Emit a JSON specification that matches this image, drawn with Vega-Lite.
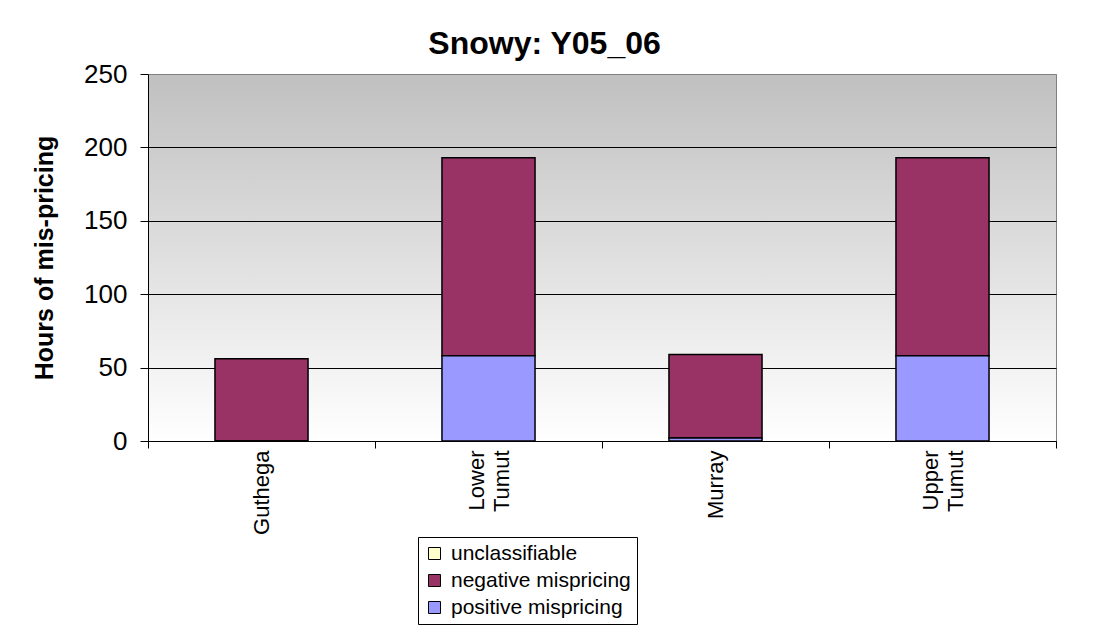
{
  "$schema": "https://vega.github.io/schema/vega-lite/v6.json",
  "autosize": {"type": "none"},
  "width": 908,
  "height": 367,
  "padding": {"left": 148, "top": 74, "right": 39, "bottom": 192},
  "background": "white",
  "title": {
    "text": "Snowy: Y05_06",
    "font": "Liberation Sans",
    "fontSize": 32,
    "fontWeight": "bold",
    "color": "black",
    "anchor": "middle",
    "frame": "bounds",
    "offset": 0
  },
  "data": {
    "values": [
      {"station": "Guthega", "series": "unclassifiable", "hours": 0},
      {"station": "Guthega", "series": "negative mispricing", "hours": 56},
      {"station": "Guthega", "series": "positive mispricing", "hours": 0},
      {"station": "Lower Tumut", "series": "unclassifiable", "hours": 0},
      {"station": "Lower Tumut", "series": "negative mispricing", "hours": 135},
      {"station": "Lower Tumut", "series": "positive mispricing", "hours": 58},
      {"station": "Murray", "series": "unclassifiable", "hours": 0},
      {"station": "Murray", "series": "negative mispricing", "hours": 57},
      {"station": "Murray", "series": "positive mispricing", "hours": 2},
      {"station": "Upper Tumut", "series": "unclassifiable", "hours": 0},
      {"station": "Upper Tumut", "series": "negative mispricing", "hours": 135},
      {"station": "Upper Tumut", "series": "positive mispricing", "hours": 58}
    ]
  },
  "mark": {"type": "bar", "stroke": "black", "strokeWidth": 1.5, "width": {"band": 0.41}},
  "encoding": {
    "x": {
      "field": "station",
      "type": "nominal",
      "sort": ["Guthega", "Lower Tumut", "Murray", "Upper Tumut"],
      "scale": {"paddingInner": 0, "paddingOuter": 0},
      "axis": {
        "title": null,
        "labelAngle": -90,
        "labelExpr": "split(datum.label, ' ')",
        "labelFont": "Liberation Sans",
        "labelFontSize": 22,
        "labelColor": "black",
        "labelPadding": 2,
        "labelOffset": {"condition": {"test": "indexof(datum.label, ' ') >= 0", "value": -12}, "value": 0},
        "labelLineHeight": 25,
        "tickBand": "extent",
        "tickSize": 7,
        "tickColor": "black",
        "domainColor": "black"
      }
    },
    "y": {
      "field": "hours",
      "type": "quantitative",
      "stack": "zero",
      "scale": {"domain": [0, 250], "nice": false},
      "axis": {
        "title": "Hours of mis-pricing",
        "titleFont": "Liberation Sans",
        "titleFontSize": 25,
        "titleFontWeight": "bold",
        "titleColor": "black",
        "titlePadding": 26,
        "values": [0, 50, 100, 150, 200, 250],
        "labelFont": "Liberation Sans",
        "labelFontSize": 26,
        "labelColor": "black",
        "labelPadding": 13,
        "tickSize": 8,
        "tickColor": "black",
        "domainColor": "black",
        "grid": true,
        "gridColor": {"condition": {"test": "datum.value == 250", "value": "#808080"}, "value": "black"},
        "gridOpacity": 1
      }
    },
    "color": {
      "field": "series",
      "type": "nominal",
      "scale": {
        "domain": ["unclassifiable", "negative mispricing", "positive mispricing"],
        "range": ["#FFFFCC", "#993366", "#9999FF"]
      },
      "legend": {
        "title": null,
        "orient": "none",
        "legendX": 270,
        "legendY": 463,
        "strokeColor": "black",
        "fillColor": "white",
        "padding": 6,
        "labelFont": "Liberation Sans",
        "labelFontSize": 21,
        "labelColor": "black",
        "labelLimit": 400,
        "labelOffset": 6,
        "symbolType": "square",
        "symbolSize": 144,
        "symbolStrokeColor": "black",
        "symbolStrokeWidth": 1,
        "symbolOpacity": 1,
        "rowPadding": 5
      }
    },
    "order": {"field": "series", "sort": "descending"}
  },
  "config": {
    "view": {
      "stroke": "#808080",
      "strokeWidth": 1,
      "fill": {
        "gradient": "linear",
        "x1": 0, "y1": 0, "x2": 0, "y2": 1,
        "stops": [
          {"offset": 0, "color": "#C0C0C0"},
          {"offset": 1, "color": "#FFFFFF"}
        ]
      }
    }
  }
}
